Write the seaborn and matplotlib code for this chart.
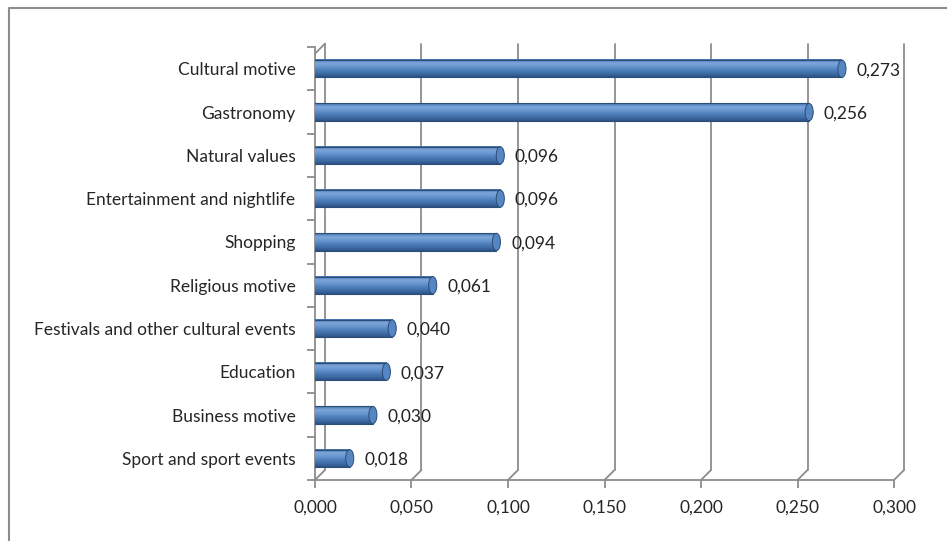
import matplotlib
matplotlib.use("Agg")
import matplotlib.pyplot as plt
from matplotlib.patches import Ellipse
from matplotlib.lines import Line2D
from matplotlib.colors import LinearSegmentedColormap
import matplotlib.transforms as mtransforms
import numpy as np
import pandas as pd
import seaborn as sns

# --- Data ----------------------------------------------------------------
motives = [
    "Cultural motive",
    "Gastronomy",
    "Natural values",
    "Entertainment and nightlife",
    "Shopping",
    "Religious motive",
    "Festivals and other cultural events",
    "Education",
    "Business motive",
    "Sport and sport events",
]
shares = [0.273, 0.256, 0.096, 0.096, 0.094, 0.061, 0.040, 0.037, 0.030, 0.018]
x_ticks = [0.0, 0.05, 0.10, 0.15, 0.20, 0.25, 0.30]

df = pd.DataFrame({"motive": motives, "share": shares})

sns.set_theme(style="white")
plt.rcParams["font.family"] = ["Lato", "DejaVu Sans"]

fig = plt.figure(figsize=(9.47, 5.41), dpi=100)
ax = fig.add_axes([0.3326, 0.1128, 0.6115, 0.800])

BAR_BLUE = "#4F81BD"
EDGE_BLUE = "#2C4D75"
GRID = "#8C8C8C"
DEPTH = 10  # px, fake 3D depth of the back wall

# --- back wall: gridlines shifted up/right + diagonal floor connectors -----
blend = mtransforms.blended_transform_factory(ax.transData, ax.transAxes)
back = mtransforms.offset_copy(blend, fig=fig, x=DEPTH, y=DEPTH, units="dots")
for t in x_ticks:
    ax.plot([t, t], [0.0, 0.985], color=GRID, lw=1.3, transform=back,
            zorder=0, clip_on=False)
    ax.annotate("", xy=(t, 0), xycoords=blend,
                xytext=(DEPTH * 0.72, DEPTH * 0.72), textcoords="offset points",
                arrowprops=dict(arrowstyle="-", color=GRID, lw=1.3,
                                shrinkA=0, shrinkB=0), zorder=0)
# top-left corner of the wall
ax.annotate("", xy=(0, 0.985), xycoords=blend,
            xytext=(DEPTH * 0.72, DEPTH * 0.72), textcoords="offset points",
            arrowprops=dict(arrowstyle="-", color=GRID, lw=1.3,
                            shrinkA=0, shrinkB=0), zorder=0)

sns.barplot(data=df, x="share", y="motive", orient="h", color=BAR_BLUE,
            width=0.40, edgecolor="none", linewidth=0, ax=ax,
            saturation=1, zorder=3)

# cylinder look: vertical gradient inside each bar plus a rounded end cap
cyl = LinearSegmentedColormap.from_list(
    "cyl", ["#3E6DA6", "#7FA8DC", "#6A97D0", "#4F81BD", "#3F6DA5", "#2B5288"])
grad = np.linspace(0, 1, 64).reshape(-1, 1)
bars = [p for p in ax.patches]
for p in bars:
    x0, y0 = p.get_x(), p.get_y()
    w, h = p.get_width(), p.get_height()
    ax.imshow(grad, cmap=cyl, aspect="auto", extent=[x0, x0 + w, y0 + h, y0],
              zorder=3.5, interpolation="bicubic")
    ax.plot([x0, x0 + w], [y0, y0], color=EDGE_BLUE, lw=0.8, zorder=3.6)
    ax.plot([x0, x0 + w], [y0 + h, y0 + h], color=EDGE_BLUE, lw=0.8,
            zorder=3.6)
    ax.add_patch(Ellipse((x0 + w, y0 + h / 2), 0.0042, h, facecolor="#5585C2",
                         edgecolor=EDGE_BLUE, lw=0.7, zorder=3.7))
    ax.add_patch(Ellipse((x0 + 0.0012, y0 + h / 2), 0.0045, h,
                         facecolor="#4F81BD", edgecolor="none", zorder=3.4))
    p.set_visible(False)

for i, v in enumerate(shares):
    ax.annotate(f"{v:.3f}".replace(".", ","), xy=(v, i), xycoords="data",
                xytext=(10.5, -1), textcoords="offset points", va="center",
                ha="left", fontsize=12.5, color="#222222", zorder=5)

ax.set_xlim(0, 0.30)
ax.set_ylim(len(motives) - 0.5, -0.5)
ax.set_xticks(x_ticks)
ax.set_xticklabels([f"{t:.3f}".replace(".", ",") for t in x_ticks])
ax.set_yticks(range(len(motives)))
ax.set_yticklabels(motives)
ax.set_xlabel("")
ax.set_ylabel("")

ax.tick_params(axis="x", labelsize=12.5, length=6, width=1.3, color=GRID,
               direction="out", pad=8, bottom=True)
ax.tick_params(axis="y", labelsize=12.5, length=0, pad=14)
# tick marks between categories on the category axis
ax.set_yticks([i + 0.5 for i in range(-1, len(motives))], minor=True)
ax.tick_params(axis="y", which="minor", length=6, width=1.3, color=GRID,
               left=True)

for s in ["top", "right"]:
    ax.spines[s].set_visible(False)
for s in ["left", "bottom"]:
    ax.spines[s].set_color(GRID)
    ax.spines[s].set_linewidth(1.3)
ax.grid(False)

# outer chart frame (only top and left edges fall inside the picture)
fig.lines.append(Line2D([9 / 947, 9 / 947, 1.0], [0.0, 1 - 8 / 541, 1 - 8 / 541],
                        transform=fig.transFigure, color="#8C8C8C", lw=1.5))

fig.savefig("out.png", dpi=100)
